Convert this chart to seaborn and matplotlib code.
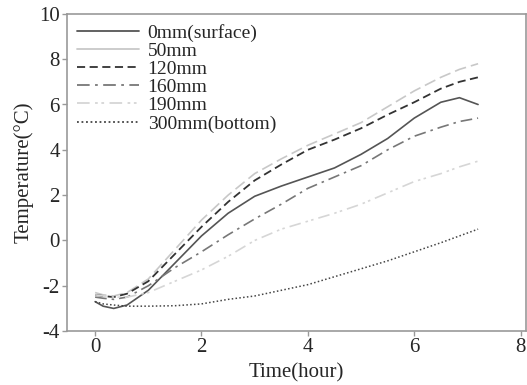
import numpy as np
import pandas as pd
import matplotlib
matplotlib.use("Agg")
import matplotlib.pyplot as plt
import seaborn as sns

# time axis (hours)
hours = [0, 0.15, 0.35, 0.6, 1.0, 1.5, 2.0, 2.5, 3.0, 3.5, 4.0, 4.5, 5.0, 5.5, 6.0, 6.5, 6.85, 7.2]

# temperatures per depth
t_0mm = [-2.7, -2.9, -3.0, -2.85, -2.2, -1.0, 0.2, 1.2, 1.95, 2.4, 2.8, 3.2, 3.8, 4.5, 5.4, 6.1, 6.3, 6.0]
t_50mm = [-2.3, -2.4, -2.45, -2.3, -1.7, -0.4, 0.9, 2.0, 2.95, 3.6, 4.2, 4.7, 5.2, 5.9, 6.6, 7.2, 7.55, 7.8]
t_120mm = [-2.4, -2.45, -2.5, -2.35, -1.8, -0.6, 0.6, 1.7, 2.65, 3.35, 4.0, 4.45, 4.95, 5.55, 6.1, 6.7, 7.0, 7.2]
t_160mm = [-2.5, -2.55, -2.6, -2.5, -2.0, -1.2, -0.5, 0.25, 0.95, 1.6, 2.3, 2.8, 3.3, 4.0, 4.6, 5.0, 5.25, 5.4]
t_190mm = [-2.4, -2.45, -2.5, -2.5, -2.3, -1.8, -1.3, -0.7, 0.0, 0.5, 0.85, 1.2, 1.6, 2.1, 2.6, 2.95, 3.25, 3.5]
t_300mm = [-2.7, -2.8, -2.85, -2.9, -2.9, -2.88, -2.8, -2.6, -2.45, -2.2, -1.95, -1.6, -1.25, -0.9, -0.5, -0.1, 0.2, 0.5]

labels = ["0mm(surface)", "50mm", "120mm", "160mm", "190mm", "300mm(bottom)"]
series = [t_0mm, t_50mm, t_120mm, t_160mm, t_190mm, t_300mm]
colors = ["#555555", "#c8c8c8", "#333333", "#777777", "#d6d6d6", "#444444"]
styles = ["-", (0, (7, 3)), (0, (4.5, 2.5)), (0, (7, 3, 1.5, 3)), (0, (7, 3, 1.5, 2, 1.5, 3)), (0, (1, 1.5))]
widths = [1.2, 1.2, 1.3, 1.2, 1.2, 1.1]

sns.set_style("ticks")
plt.rcParams["font.family"] = ["Liberation Serif", "DejaVu Serif"]
plt.rcParams["axes.unicode_minus"] = False

fig = plt.figure(figsize=(5.27, 3.85), dpi=100)
ax = fig.add_axes([0.127, 0.14, 0.871, 0.824])

for lab, vals, c, ls, lw in zip(labels, series, colors, styles, widths):
    sns.lineplot(x=hours, y=vals, ax=ax, color=c, linestyle=ls, linewidth=lw, label=lab)

ax.set_xlim(-0.53, 8.1)
ax.set_ylim(-4, 10)
ax.set_xticks([0, 2, 4, 6, 8])
ax.set_yticks([-4, -2, 0, 2, 4, 6, 8, 10])
ax.set_xlabel("Time(hour)", fontsize=15)
ax.set_ylabel("Temperature(°C)", fontsize=15)
ax.tick_params(axis="both", direction="out", length=3.6, width=1, color="#999999",
               labelsize=15, pad=1.5)
for sp in ax.spines.values():
    sp.set_color("#999999")
    sp.set_linewidth(1.2)

leg = ax.legend(loc="upper left", frameon=False, fontsize=14, handlelength=3.2,
                labelspacing=0.03, borderaxespad=0.1, handletextpad=0.45,
                bbox_to_anchor=(0.0, 1.0))
for i, h in enumerate(leg.get_lines()):
    h.set_linewidth(1.3)
    if i == 1:
        h.set_linestyle("-")  # legend sample for 50mm is drawn solid

fig.savefig("out.png", dpi=100)
